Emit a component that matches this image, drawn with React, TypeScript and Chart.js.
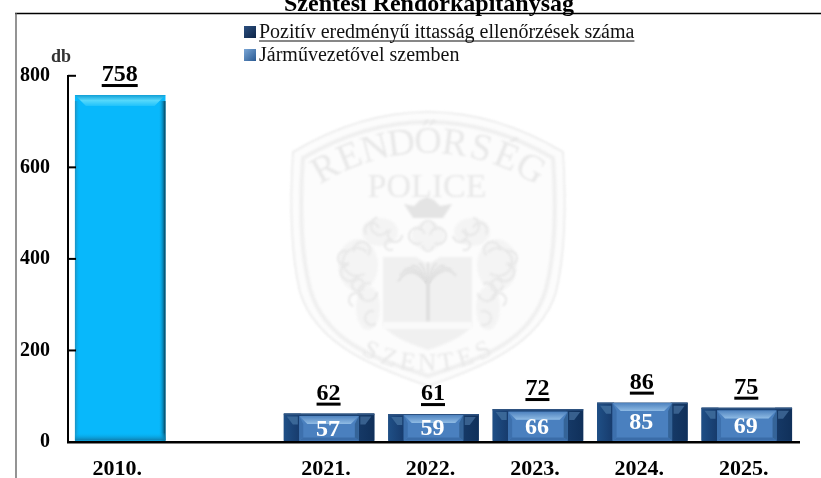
import React, { useEffect, useRef } from "react";
import { Chart, registerables } from "chart.js";

Chart.register(...registerables);

const categories = ["2010.", "", "2021.", "2022.", "2023.", "2024.", "2025."];
const positiveChecks = [758, null, 62, 61, 72, 86, 75];
const againstDrivers = [null, null, 57, 59, 66, 85, 69];
const yTicks = [0, 200, 400, 600, 800];
const titleText = "Szentesi Rendőrkapitányság";
const legendLabels = ["Pozitív eredményű ittasság ellenőrzések száma", "Járművezetővel szemben"];
const unitText = "db";
const sealTop = "RENDŐRSÉG";
const sealMid = "POLICE";
const sealBottom = "SZENTES";

const SERIF = '"Liberation Serif", "Times New Roman", serif';

function poly(ctx: CanvasRenderingContext2D, pts: number[][], fill: string | CanvasGradient) {
  ctx.fillStyle = fill;
  ctx.beginPath();
  pts.forEach((p, i) => (i ? ctx.lineTo(p[0], p[1]) : ctx.moveTo(p[0], p[1])));
  ctx.closePath();
  ctx.fill();
}

function bevelOuter(ctx: CanvasRenderingContext2D, el: any, idx: number) {
  const l = el.x - el.width / 2, r = el.x + el.width / 2, t = el.y, b = el.base - 1;
  if (idx === 0) {
    const h = ctx.createLinearGradient(0, t, 0, t + 11);
    h.addColorStop(0, "#109fd6");
    h.addColorStop(0.5, "#55d8fb");
    h.addColorStop(1, "#20c2fb");
    poly(ctx, [[l, t], [r, t], [r - 11, t + 11], [l + 11, t + 11]], h);
    const lg = ctx.createLinearGradient(l, 0, l + 5, 0);
    lg.addColorStop(0, "#1d8fbe");
    lg.addColorStop(1, "rgba(8,184,251,0)");
    ctx.fillStyle = lg;
    ctx.fillRect(l, t + 6, 5, b - t - 6);
    const rg = ctx.createLinearGradient(r - 7, 0, r, 0);
    rg.addColorStop(0, "rgba(8,184,251,0)");
    rg.addColorStop(1, "#07384e");
    ctx.fillStyle = rg;
    ctx.fillRect(r - 7, t + 6, 7, b - t - 6);
    const bg = ctx.createLinearGradient(0, b - 8, 0, b);
    bg.addColorStop(0, "rgba(8,184,251,0)");
    bg.addColorStop(1, "#0f7ba8");
    ctx.fillStyle = bg;
    ctx.fillRect(l, b - 8, r - l, 8);
    return;
  }
  const bh = Math.min(8, (b - t) * 0.35);
  const pw = 17;
  const lp = ctx.createLinearGradient(l, 0, l + pw, 0);
  lp.addColorStop(0, "#1f4f86");
  lp.addColorStop(1, "#16396a");
  ctx.fillStyle = lp;
  ctx.fillRect(l, t, pw, b - t);
  const rp = ctx.createLinearGradient(r - pw, 0, r, 0);
  rp.addColorStop(0, "#163a68");
  rp.addColorStop(1, "#10305a");
  ctx.fillStyle = rp;
  ctx.fillRect(r - pw, t, pw, b - t);
  ctx.fillStyle = "#2f5482";
  ctx.fillRect(l, t, r - l, 1.5);
  poly(ctx, [[l + 3, t + 3], [l + 14, t + 3], [l + 14, t + 3 + bh], [l + 9, t + 3 + bh]], "#3a6797");
  poly(ctx, [[r - 14, t + 3], [r - 3, t + 3], [r - 9, t + 3 + bh], [r - 14, t + 3 + bh]], "#38608e");
}

function bevelInner(ctx: CanvasRenderingContext2D, el: any) {
  const l = el.x - el.width / 2, r = el.x + el.width / 2, t = el.y, b = el.base - 1;
  const e = 8;
  const sg = ctx.createLinearGradient(0, t, 0, t + e);
  sg.addColorStop(0, "#4f83bf");
  sg.addColorStop(1, "#8fbbe4");
  poly(ctx, [[l, t], [r, t], [r - e, t + e], [l + e, t + e]], sg);
  poly(ctx, [[l, b], [r, b], [r - 4, b - 3], [l + 4, b - 3]], "#3a6ca8");
  poly(ctx, [[l, t], [l + 4, t + e], [l + 4, b - 3], [l, b]], "#3d70ad");
  poly(ctx, [[r, t], [r - 4, t + e], [r - 4, b - 3], [r, b]], "#356498");
}

function arcText(ctx: CanvasRenderingContext2D, text: string, cx: number, cy: number, rad: number, span: number, smile: boolean) {
  const n = text.length;
  for (let i = 0; i < n; i++) {
    const a = (i / (n - 1) - 0.5) * span;
    ctx.save();
    if (smile) {
      ctx.translate(cx + rad * Math.sin(a), cy + rad * Math.cos(a));
      ctx.rotate(-a);
    } else {
      ctx.translate(cx + rad * Math.sin(a), cy - rad * Math.cos(a));
      ctx.rotate(a);
    }
    ctx.fillText(text[i], 0, 0);
    ctx.restore();
  }
}

function shieldPath(ctx: CanvasRenderingContext2D, i: number) {
  ctx.beginPath();
  ctx.moveTo(293 + i, 152 + i * 0.6);
  ctx.bezierCurveTo(340 + i * 0.4, 124 + i, 385, 112 + i, 428, 112 + i);
  ctx.bezierCurveTo(471, 112 + i, 516 - i * 0.4, 124 + i, 563 - i, 152 + i * 0.6);
  ctx.bezierCurveTo(566 - i, 200, 566 - i, 250, 556 - i, 292 - i * 0.3);
  ctx.bezierCurveTo(540 - i, 345, 480 - i * 0.5, 368 - i * 0.8, 428, 386 - i);
  ctx.bezierCurveTo(376 + i * 0.5, 368 - i * 0.8, 316 + i, 345, 300 + i, 292 - i * 0.3);
  ctx.bezierCurveTo(290 + i, 250, 290 + i, 200, 293 + i, 152 + i * 0.6);
  ctx.closePath();
}

const MANTLE = [
  [380, 226, 9, 0.5, 4.4], [372, 230, 7, 2.5, 6], [470, 226, 9, -1.2, 2.6], [480, 230, 7, -2.8, 0.6],
  [357, 262, 14, 1, 5.5], [350, 272, 9, 0.5, 4.5], [362, 250, 8, 3, 7], [345, 258, 7, 1, 5],
  [498, 262, 14, -2.4, 2.2], [505, 272, 9, -1.4, 2.6], [492, 250, 8, -3.9, 0], [510, 258, 7, -2, 2],
  [368, 292, 9, 0, 5], [356, 300, 7, 2, 6], [487, 292, 9, -2, 3], [499, 300, 7, -3, 1],
  [372, 318, 7, 1, 5], [484, 318, 7, -2, 2], [358, 285, 6, 0, 6], [497, 285, 6, 0, 6],
  [417, 236, 8, 1, 6], [438, 236, 8, -3, 2], [428, 228, 7, 3, 6.4], [428, 246, 5, 0, 3.2],
  [395, 235, 7, 0, 4], [460, 235, 7, -1, 3], [390, 245, 5, 1, 5], [465, 245, 5, -2, 2],
];

function drawSeal(ctx: CanvasRenderingContext2D) {
  ctx.save();
  ctx.filter = "blur(0.8px)";
  ctx.fillStyle = "#fcfcfc";
  shieldPath(ctx, 0);
  ctx.fill();
  ctx.strokeStyle = "#e9e9e9";
  ctx.lineWidth = 1.5;
  shieldPath(ctx, 0);
  ctx.stroke();
  ctx.strokeStyle = "#efefef";
  ctx.lineWidth = 4;
  shieldPath(ctx, 10);
  ctx.stroke();

  ctx.fillStyle = "#e8e8e8";
  ctx.textAlign = "center";
  ctx.textBaseline = "alphabetic";
  ctx.font = `38px ${SERIF}`;
  arcText(ctx, sealTop, 428, 352, 199, 1.02, false);
  ctx.font = `34px ${SERIF}`;
  ctx.fillText(sealMid, 427, 197);
  ctx.font = `25px ${SERIF}`;
  arcText(ctx, sealBottom, 427, 237, 134, 0.92, true);

  // coat of arms
  ctx.fillStyle = "#f4f4f4";
  [[358, 265, 20, 26], [497, 265, 20, 26], [380, 232, 18, 14], [472, 232, 18, 14], [368, 308, 12, 22], [488, 308, 12, 22], [428, 236, 16, 14]].forEach((e) => {
    ctx.beginPath();
    ctx.ellipse(e[0], e[1], e[2], e[3], 0, 0, Math.PI * 2);
    ctx.fill();
  });
  ctx.strokeStyle = "#e7e7e7";
  ctx.lineWidth = 2;
  MANTLE.forEach((m) => {
    ctx.beginPath();
    ctx.arc(m[0], m[1], m[2], m[3], m[4]);
    ctx.stroke();
  });
  // crown
  ctx.fillStyle = "#e4e4e4";
  ctx.beginPath();
  ctx.moveTo(404, 204);
  ctx.lineTo(414, 206);
  ctx.lineTo(420, 200);
  ctx.lineTo(427, 197);
  ctx.lineTo(434, 200);
  ctx.lineTo(440, 206);
  ctx.lineTo(452, 204);
  ctx.lineTo(443, 218);
  ctx.lineTo(413, 218);
  ctx.closePath();
  ctx.fill();
  // shield
  ctx.fillStyle = "#f0f0f0";
  ctx.beginPath();
  ctx.moveTo(383, 257);
  ctx.lineTo(416, 257);
  ctx.lineTo(428, 264);
  ctx.lineTo(440, 257);
  ctx.lineTo(472, 257);
  ctx.lineTo(472, 325);
  ctx.quadraticCurveTo(465, 338, 428, 350);
  ctx.quadraticCurveTo(391, 338, 383, 325);
  ctx.closePath();
  ctx.fill();
  ctx.fillStyle = "#fafafa";
  ctx.fillRect(383, 322, 89, 7);
  // palm
  ctx.strokeStyle = "#e0e0e0";
  ctx.lineWidth = 2;
  for (let a = -1.5; a <= 1.5; a += 0.3) {
    ctx.beginPath();
    ctx.moveTo(428, 283);
    ctx.quadraticCurveTo(428 + 18 * Math.sin(a), 262, 428 + 30 * Math.sin(a), 283 - 20 * Math.cos(a));
    ctx.stroke();
  }
  ctx.fillStyle = "#e0e0e0";
  ctx.fillRect(426, 283, 4, 38);
  ctx.restore();
}

const decorPlugin = {
  id: "decor",
  afterLayout(chart: any) {
    if (chart.titleBlock) {
      chart.titleBlock.top = -10;
      chart.titleBlock.left = 37;
      chart.titleBlock.right = 821;
    }
  },
  beforeDraw(chart: any) {
    const { ctx, width, height } = chart;
    ctx.save();
    ctx.fillStyle = "#fff";
    ctx.fillRect(0, 0, width, height);
    ctx.strokeStyle = "#000";
    ctx.lineWidth = 1.6;
    ctx.beginPath();
    ctx.moveTo(15, 13.5);
    ctx.lineTo(width, 13.5);
    ctx.stroke();
    ctx.strokeStyle = "#666";
    ctx.lineWidth = 1.4;
    ctx.beginPath();
    ctx.moveTo(16, 13);
    ctx.lineTo(16, height);
    ctx.stroke();
    drawSeal(ctx);
    ctx.restore();
  },
  afterDatasetDraw(chart: any, args: any) {
    const { ctx } = chart;
    const vals = chart.data.datasets[args.index].data;
    ctx.save();
    args.meta.data.forEach((el: any, i: number) => {
      if (vals[i] == null) return;
      if (args.index === 0) bevelOuter(ctx, el, i);
      else bevelInner(ctx, el);
    });
    ctx.restore();
  },
  afterDatasetsDraw(chart: any) {
    const { ctx } = chart;
    const yScale = chart.scales.y;
    ctx.save();
    // inward ticks
    ctx.strokeStyle = "#000";
    ctx.lineWidth = 2;
    yScale.ticks.forEach((_: any, i: number) => {
      const y = yScale.getPixelForTick(i);
      ctx.beginPath();
      ctx.moveTo(yScale.right, y);
      ctx.lineTo(yScale.right + 8, y);
      ctx.stroke();
    });
    // value labels
    ctx.textAlign = "center";
    ctx.textBaseline = "alphabetic";
    chart.getDatasetMeta(0).data.forEach((el: any, i: number) => {
      const v = positiveChecks[i];
      if (v == null) return;
      const s = String(v);
      ctx.font = `bold 24px ${SERIF}`;
      ctx.fillStyle = "#000";
      ctx.fillText(s, el.x - 0.5, el.y - 14);
      const w = ctx.measureText(s).width;
      ctx.fillRect(el.x - 0.5 - w / 2, el.y - 11, w, 3);
    });
    chart.getDatasetMeta(1).data.forEach((el: any, i: number) => {
      const v = againstDrivers[i];
      if (v == null) return;
      ctx.font = `bold 24px ${SERIF}`;
      ctx.fillStyle = "#fff";
      ctx.textBaseline = "middle";
      ctx.fillText(String(v), el.x - 1, (el.y + el.base) / 2 + 1);
    });
    // unit
    ctx.textBaseline = "alphabetic";
    ctx.font = `bold 18px ${SERIF}`;
    ctx.fillStyle = "#333";
    ctx.textAlign = "left";
    ctx.fillText(unitText, 51, 62);
    // legend
    const rows = [
      { y: 32, c1: "#2c4f80", c2: "#0d2547" },
      { y: 55, c1: "#7aa6d6", c2: "#2a5a92" },
    ];
    rows.forEach((r, i) => {
      const g = ctx.createLinearGradient(244, r.y - 6, 256, r.y + 6);
      g.addColorStop(0, r.c1);
      g.addColorStop(1, r.c2);
      ctx.fillStyle = g;
      ctx.fillRect(244, r.y - 6, 12, 12);
      ctx.fillStyle = "#111";
      ctx.font = `20px ${SERIF}`;
      ctx.textBaseline = "alphabetic";
      ctx.fillText(legendLabels[i], 259, r.y + 6);
      if (i === 0) {
        const w = ctx.measureText(legendLabels[i]).width;
        ctx.fillRect(259, r.y + 8.5, w, 1);
      }
    });
    ctx.restore();
  },
};

export default function App() {
  const ref = useRef<HTMLCanvasElement>(null);
  useEffect(() => {
    document.body.style.margin = "0";
    const chart = new Chart(ref.current as HTMLCanvasElement, {
      type: "bar",
      data: {
        labels: categories,
        datasets: [
          {
            label: legendLabels[0],
            data: positiveChecks,
            backgroundColor: categories.map((_, i) => (i === 0 ? "#08b8fb" : "#1a4375")),
            barPercentage: 0.867,
            categoryPercentage: 1,
            grouped: false,
            order: 2,
          },
          {
            label: legendLabels[1],
            data: againstDrivers,
            backgroundColor: "#4a80bf",
            barPercentage: 0.57,
            categoryPercentage: 1,
            grouped: false,
            order: 1,
          },
        ],
      } as any,
      options: {
        responsive: false,
        animation: false,
        layout: { padding: { left: 0, right: 22, top: 47, bottom: 0 } },
        plugins: {
          legend: { display: false },
          tooltip: { enabled: false },
          title: {
            display: true,
            text: titleText,
            color: "#000",
            font: { family: SERIF, size: 24, weight: "bold", lineHeight: 1.2 },
            padding: 0,
          },
        },
        scales: {
          x: {
            grid: { drawOnChartArea: false, drawTicks: false },
            border: { color: "#000", width: 2.5, z: 2 },
            afterFit: (s: any) => {
              s.height = 36;
            },
            ticks: {
              autoSkip: false,
              maxRotation: 0,
              padding: 14,
              labelOffset: -3,
              color: "#000",
              font: { family: SERIF, size: 22, weight: "bold" },
            },
          },
          y: {
            min: 0,
            max: 800,
            afterBuildTicks: (s: any) => {
              s.ticks = yTicks.map((value) => ({ value }));
            },
            afterFit: (s: any) => {
              s.width = 68;
            },
            grid: { drawOnChartArea: false, drawTicks: false },
            border: { color: "#000", width: 2, z: 2 },
            ticks: {
              padding: 18,
              color: "#000",
              font: { family: SERIF, size: 20, weight: "bold" },
            },
          },
        },
      } as any,
      plugins: [decorPlugin],
    });
    return () => chart.destroy();
  }, []);
  return <canvas ref={ref} width={821} height={478} style={{ display: "block" }} />;
}
